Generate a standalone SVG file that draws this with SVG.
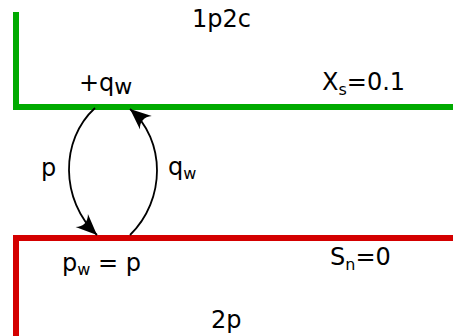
<svg xmlns="http://www.w3.org/2000/svg" width="453" height="336" viewBox="0 0 453 336">
<defs>
<style>
.t{font-family:"DejaVu Sans",sans-serif;font-size:24px;fill:#000}
.s{font-size:16px}
.wall{fill:none;stroke-width:6}
.arc{fill:none;stroke:#000;stroke-width:1.8}
</style>
<marker id="ah" markerUnits="userSpaceOnUse" markerWidth="26" markerHeight="22" viewBox="-23 -11 26 22" refX="0" refY="0" orient="auto">
<path d="M0,0 L-21,-9 C-15.5,-3.5 -15.5,3.5 -21,9 Z" fill="#000"/>
</marker>
</defs>
<rect width="453" height="336" fill="#fff"/>
<g id="layer-1p2c">
<path class="wall" stroke="#00aa00" d="M16,12 V107 H453"/>
<text class="t" x="192" y="27">1p2c</text>
<text class="t" x="79" y="91" font-size="26">+q<tspan font-size="22" dy="3">w</tspan></text>
<text class="t" x="322" y="90">X<tspan class="s" dy="5">s</tspan><tspan dy="-5">=0.1</tspan></text>
</g>
<g id="layer-2p">
<path class="wall" stroke="#d40000" d="M16,336 V238 H453"/>
<text class="t" x="62" y="271">p<tspan class="s" dy="4">w</tspan><tspan dy="-4"> = p</tspan></text>
<text class="t" x="330" y="265">S<tspan class="s" dy="5">n</tspan><tspan dy="-5">=0</tspan></text>
<text class="t" x="211" y="328">2p</text>
</g>
<g id="connectors">
<path class="arc" d="M95,108 C60,140 60,200 97,235" marker-end="url(#ah)"/>
<path class="arc" d="M130,235 C166,200 166,140 130,109" marker-end="url(#ah)"/>
<text class="t" x="41" y="176">p</text>
<text class="t" x="168" y="175">q<tspan class="s" dy="4">w</tspan></text>
</g>
</svg>
